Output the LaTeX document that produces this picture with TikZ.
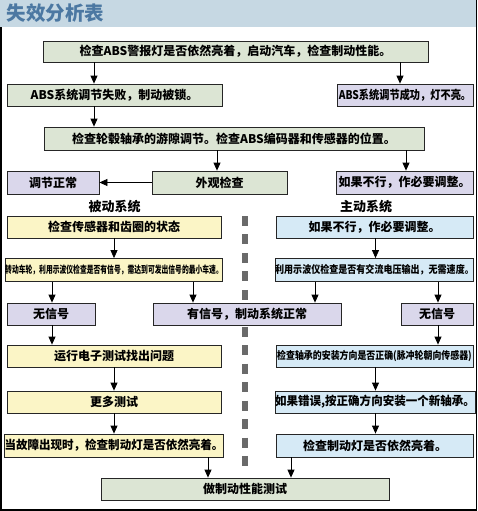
\documentclass[tikz,border=0pt]{standalone}
\usepackage{fontspec}
\setmainfont{Noto Sans CJK SC}
\usepackage{xcolor}
\usepackage{graphicx}
\usepackage{tikz}
\usetikzlibrary{arrows.meta}

\definecolor{boxgreen}{HTML}{DCE5D4}
\definecolor{boxlilac}{HTML}{DAD7EB}
\definecolor{boxyellow}{HTML}{FBF5C6}
\definecolor{boxblue}{HTML}{D6EAF6}
\definecolor{titleband}{HTML}{C6D8E3}
\definecolor{titleblue}{HTML}{4C78A2}
\definecolor{dashgray}{HTML}{6A6A6A}

\begin{document}
\begin{tikzpicture}[
  x=1pt, y=-1pt,
  font=\fontsize{12}{14}\selectfont\bfseries,
  box/.style={draw=black!85, line width=0.8pt, inner sep=0pt,
              minimum height=22pt},
  gbox/.style={box, fill=boxgreen},
  pbox/.style={box, fill=boxlilac},
  ybox/.style={box, fill=boxyellow, minimum width=214pt},
  bbox/.style={box, fill=boxblue, minimum width=197pt},
  arr/.style={-{Triangle[length=8pt,width=7pt]}, line width=0.8pt},
]
\useasboundingbox (0,0) rectangle (478,511);

% ---------- frame and title ----------
\draw[line width=1.2pt] (1,27) -- (1,510) -- (476.5,510) -- (476.5,0);
\fill[titleband] (0,0) rectangle (476,27);
\node[anchor=west, text=titleblue, font=\fontsize{19.5}{21}\selectfont\bfseries]
  (title) at (3,13.5) {失效分析表};

% ---------- separator ----------
\draw[dashgray, line width=6pt, dash pattern=on 10pt off 8.46pt]
  (244.7,216) -- (244.7,467);

% ---------- common part ----------
\node[gbox, minimum width=385pt, minimum height=21pt] (chk) at (235.5,51.5)
  {检查ABS警报灯是否依然亮着，启动汽车，检查制动性能。};
\node[gbox, minimum width=215pt] (fail) at (114.5,95) {ABS系统调节失败，制动被锁。};
\node[pbox, minimum width=136pt] (ok)   at (405,95)
  {\scalebox{0.85}[1]{ABS系统调节成功，灯不亮。}};
\node[gbox, minimum width=380pt, minimum height=23pt] (hub) at (234,138.5)
  {检查轮毂轴承的游隙调节。检查ABS编码器和传感器的位置。};
\node[pbox, minimum width=92pt, minimum height=23pt]  (norm) at (53,182.5)    {调节正常};
\node[gbox, minimum width=135pt, minimum height=23pt] (look) at (219.5,182.5) {外观检查};
\node[pbox, minimum width=137pt, minimum height=23pt] (adj)  at (404.5,182.5)
  {如果不行，作必要调整。};

\node[font=\fontsize{13}{15}\selectfont\bfseries] (passive) at (114.5,207) {被动系统};
\node[font=\fontsize{13}{15}\selectfont\bfseries] (active)  at (366,207)   {主动系统};

% ---------- passive system ----------
\node[ybox] (sens)  at (114,227) {检查传感器和齿圈的状态};
\node[ybox, minimum height=23pt] (scope) at (114,270)
  {\fontsize{10}{12}\selectfont\scalebox{0.68}[1]{转动车轮，利用示波仪检查是否有信号，需达到可发出信号的最小车速。}};
\node[pbox, minimum width=88pt]  (nosigl) at (51,314)  {无信号};
\node[pbox, minimum width=188pt] (sig)    at (247,314) {有信号，制动系统正常};
\node[ybox] (etest) at (114,356)   {运行电子测试找出问题};
\node[ybox] (more)  at (114,402)   {更多测试};
\node[ybox, minimum height=23pt] (flt) at (114,445.5)
  {\scalebox{0.96}[1]{当故障出现时，检查制动灯是否依然亮着。}};

% ---------- active system ----------
\node[bbox] (act)   at (374.5,227) {如果不行，作必要调整。};
\node[bbox, minimum height=23pt] (osc) at (374.5,270)
  {\fontsize{10.5}{12}\selectfont\scalebox{0.86}[1]{利用示波仪检查是否有交流电压输出，无需速度。}};
\node[pbox, minimum width=72pt] (nosigr) at (437,314) {无信号};
\node[bbox] (orient) at (374.5,356)
  {\fontsize{10.5}{12}\selectfont\scalebox{0.85}[1]{检查轴承的安装方向是否正确(脉冲轮朝向传感器)}};
\node[bbox] (newb)  at (375,402)
  {\scalebox{0.96}[1]{如果错误,按正确方向安装一个新轴承。}};
\node[bbox, minimum height=23pt] (lamp) at (375,445.5) {检查制动灯是否依然亮着。};

\node[gbox, minimum width=288pt] (final) at (245,489) {做制动性能测试};

% ---------- arrows ----------
\coordinate (xa) at (94,0);   \coordinate (xb) at (400,0);
\coordinate (xc) at (217,0);  \coordinate (xd) at (406,0);
\coordinate (xe) at (114,0);  \coordinate (xf) at (375.5,0);
\coordinate (xg) at (52,0);   \coordinate (xh) at (193,0);
\coordinate (xi) at (315,0);  \coordinate (xj) at (438,0);
\coordinate (xk) at (208,0);  \coordinate (xl) at (291,0);

\draw[arr] (chk.south -| xa) -- (fail.north -| xa);
\draw[arr] (chk.south -| xb) -- (ok.north -| xb);
\draw[arr] (fail.south -| xa) -- (hub.north -| xa);
\draw[arr] (hub.south -| xc) -- (look.north -| xc);
\draw[arr] (hub.south -| xd) -- (adj.north -| xd);
\draw[arr] (look.west) -- (norm.east);

\draw[arr] (sens.south -| xe) -- (scope.north -| xe);
\draw[arr] (scope.south -| xg) -- (nosigl.north -| xg);
\draw[arr] (scope.south -| xh) -- (sig.north -| xh);
\draw[arr] (nosigl.south -| xg) -- (etest.north -| xg);
\draw[arr] (etest.south -| xe) -- (more.north -| xe);
\draw[arr] (more.south -| xe) -- (flt.north -| xe);

\draw[arr] (act.south -| xf) -- (osc.north -| xf);
\draw[arr] (osc.south -| xi) -- (sig.north -| xi);
\draw[arr] (osc.south -| xj) -- (nosigr.north -| xj);
\draw[arr] (nosigr.south -| xj) -- (orient.north -| xj);
\draw[arr] (orient.south -| xf) -- (newb.north -| xf);
\draw[arr] (newb.south -| xf) -- (lamp.north -| xf);

\draw[arr] (flt.south -| xk) -- (final.north -| xk);
\draw[arr] (lamp.south -| xl) -- (final.north -| xl);

\end{tikzpicture}
\end{document}
